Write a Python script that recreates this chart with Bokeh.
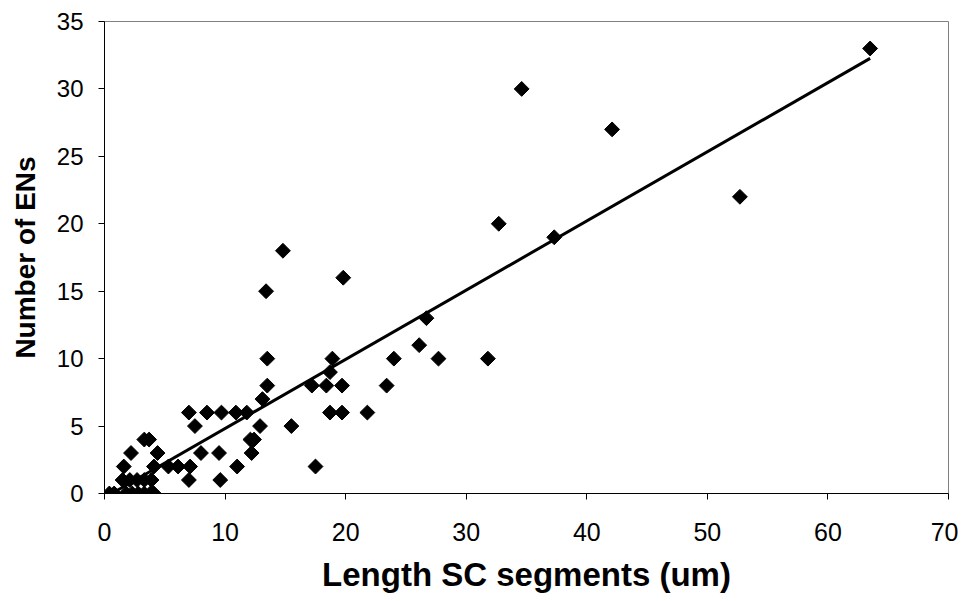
import numpy as np
from bokeh.plotting import figure
from bokeh.models import Range1d, FixedTicker
from bokeh.embed import file_html
from bokeh.resources import INLINE

# Data
length_um = [
    0.4, 0.8, 1.8, 2.3, 2.8, 3.3, 3.8, 4.1,          # y = 0
    1.5, 2.1, 2.7, 3.3, 3.9, 7.0, 9.6,               # y = 1
    1.6, 4.1, 5.3, 6.1, 7.1, 11.0, 17.5,             # y = 2
    2.2, 4.4, 8.0, 9.5, 12.2,                        # y = 3
    3.3, 3.7, 12.1, 12.4,                            # y = 4
    7.5, 12.9, 15.5,                                 # y = 5
    7.0, 8.5, 9.7, 10.9, 11.8, 18.7, 19.7, 21.8,     # y = 6
    13.1,                                            # y = 7
    13.5, 17.2, 18.4, 19.7, 23.4,                    # y = 8
    18.7,                                            # y = 9
    13.5, 18.9, 24.0, 27.7, 31.8,                    # y = 10
    26.1,                                            # y = 11
    26.7,                                            # y = 13
    13.4, 14.8, 19.8,                                # y = 15, 18, 16
    37.3, 32.7, 52.7, 42.1, 34.6, 63.5,              # y = 19, 20, 22, 27, 30, 33
]
n_ens = [
    0, 0, 0, 0, 0, 0, 0, 0,
    1, 1, 1, 1, 1, 1, 1,
    2, 2, 2, 2, 2, 2, 2,
    3, 3, 3, 3, 3,
    4, 4, 4, 4,
    5, 5, 5,
    6, 6, 6, 6, 6, 6, 6, 6,
    7,
    8, 8, 8, 8, 8,
    9,
    10, 10, 10, 10, 10,
    11,
    13,
    15, 18, 16,
    19, 20, 22, 27, 30, 33,
]

x_ticks = [0, 10, 20, 30, 40, 50, 60, 70]
y_ticks = [0, 5, 10, 15, 20, 25, 30, 35]

# linear trendline coefficients
trend_slope = 0.513
trend_intercept = -0.31

p = figure(width=958, height=598, output_backend="svg", toolbar_location=None,
           x_range=Range1d(0, 70), y_range=Range1d(0, 35),
           min_border_left=104, min_border_right=10, min_border_top=21,
           min_border_bottom=105)
p.background_fill_color = "white"
p.border_fill_color = "white"
p.outline_line_color = "#808080"
p.outline_line_width = 1
p.xgrid.visible = False
p.ygrid.visible = False

FONT = "Liberation Sans"
for ax in (p.xaxis[0], p.yaxis[0]):
    ax.axis_line_color = "black"
    ax.axis_line_width = 1
    ax.major_tick_line_color = "black"
    ax.major_tick_in = 0
    ax.major_tick_out = 6
    ax.minor_tick_line_color = None
    ax.major_label_text_font = FONT
    ax.major_label_text_color = "black"
    ax.axis_label_text_font = FONT
    ax.axis_label_text_font_style = "bold"
    ax.axis_label_text_color = "black"

p.xaxis.ticker = FixedTicker(ticks=x_ticks)
p.yaxis.ticker = FixedTicker(ticks=y_ticks)
p.xaxis.axis_label = "Length SC segments (um)"
p.yaxis.axis_label = "Number of ENs"
p.xaxis.major_label_text_font_size = "25px"
p.yaxis.major_label_text_font_size = "24px"
p.xaxis.axis_label_text_font_size = "33px"
p.yaxis.axis_label_text_font_size = "28px"
p.xaxis.major_label_standoff = 23
p.yaxis.major_label_standoff = 15
p.xaxis.axis_label_standoff = 12
p.yaxis.axis_label_standoff = 13

# trendline from the x where it meets 0 to the largest x
x0 = max(min(length_um), -trend_intercept / trend_slope)
x1 = max(length_um)
tx = np.array([x0, x1])
p.line(tx, trend_slope * tx + trend_intercept, line_color="black", line_width=3)

p.scatter(length_um, n_ens, marker="square", angle=np.pi / 4, size=10.5,
          fill_color="black", line_color="black")

open("out.html", "w").write(file_html(p, INLINE))
